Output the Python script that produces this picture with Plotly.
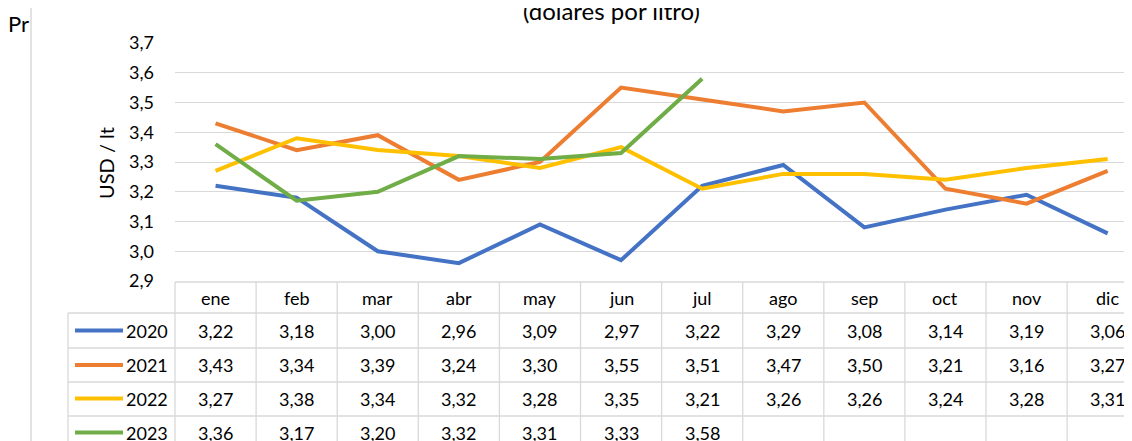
import plotly.graph_objects as go

months = ["ene", "feb", "mar", "abr", "may", "jun", "jul", "ago", "sep", "oct", "nov", "dic"]
years = ["2020", "2021", "2022", "2023"]
v2020 = [3.22, 3.18, 3.00, 2.96, 3.09, 2.97, 3.22, 3.29, 3.08, 3.14, 3.19, 3.06]
v2021 = [3.43, 3.34, 3.39, 3.24, 3.30, 3.55, 3.51, 3.47, 3.50, 3.21, 3.16, 3.27]
v2022 = [3.27, 3.38, 3.34, 3.32, 3.28, 3.35, 3.21, 3.26, 3.26, 3.24, 3.28, 3.31]
v2023 = [3.36, 3.17, 3.20, 3.32, 3.31, 3.33, 3.58]
series = [v2020, v2021, v2022, v2023]
colors = ["#4472C4", "#ED7D31", "#FFC000", "#70AD47"]

# page body has an 8px margin: work in screen pixels, convert to figure pixels
OFF = 8
SW, SH = 1132, 441
W, H = SW - OFF, SH - OFF
plot_left_s, plot_top_s, plot_bottom_s = 175, 43, 281
L = plot_left_s - OFF
T = plot_top_s - OFF
B = H - (plot_bottom_s - OFF)
R = 0
FONT = "Lato"
GRID = "#D9D9D9"
xr = [-0.5, 11.30]
plot_w = W - L - R
plot_h = H - T - B


def pxx(s):
    return (s - plot_left_s) / plot_w


def pxy(s):
    return (plot_bottom_s - s) / plot_h


def dx(v):
    return (v - xr[0]) / (xr[1] - xr[0])


fig = go.Figure()
for name, vals, c in zip(years, series, colors):
    fig.add_trace(go.Scatter(
        x=list(range(len(vals))), y=vals, mode="lines", name=name,
        line=dict(color=c, width=4), showlegend=False, hoverinfo="skip"))

shapes = []
annotations = []

# table geometry (screen pixels)
header_top = 282
row_lines = [313, 348, 382, 416, 450]
row_centers = [330.5, 365, 398.5, 432.5]
label_left = 68
TS = 18

shapes.append(dict(type="line", xref="paper", yref="paper", x0=0, x1=1.02,
                   y0=pxy(header_top), y1=pxy(header_top), line=dict(color=GRID, width=1.3)))
for yl in row_lines:
    shapes.append(dict(type="line", xref="paper", yref="paper", x0=pxx(label_left), x1=1.02,
                       y0=pxy(yl), y1=pxy(yl), line=dict(color=GRID, width=1.3)))
shapes.append(dict(type="line", xref="paper", yref="paper", x0=pxx(label_left), x1=pxx(label_left),
                   y0=pxy(row_lines[0]), y1=pxy(SH + 20), line=dict(color=GRID, width=1.3)))
for k in range(len(months) + 1):
    xv = dx(-0.5 + k)
    shapes.append(dict(type="line", xref="paper", yref="paper", x0=xv, x1=xv,
                       y0=pxy(header_top), y1=pxy(SH + 20), line=dict(color=GRID, width=1.3)))

for i, m in enumerate(months):
    annotations.append(dict(x=dx(i), y=pxy(298), xref="paper", yref="paper", text=m,
                            showarrow=False, xanchor="center", yanchor="middle",
                            font=dict(family=FONT, size=TS, color="#000000")))

for r, (name, vals, c) in enumerate(zip(years, series, colors)):
    yc = pxy(row_centers[r])
    shapes.append(dict(type="line", xref="paper", yref="paper", x0=pxx(75), x1=pxx(123),
                       y0=yc, y1=yc, line=dict(color=c, width=4)))
    annotations.append(dict(x=pxx(170), y=yc, xref="paper", yref="paper", text=name,
                            showarrow=False, xanchor="right", yanchor="middle",
                            font=dict(family=FONT, size=TS, color="#000000")))
    for i, v in enumerate(vals):
        annotations.append(dict(x=dx(i), y=yc, xref="paper", yref="paper",
                                text=f"{v:.2f}".replace(".", ","),
                                showarrow=False, xanchor="center", yanchor="middle",
                                font=dict(family=FONT, size=TS, color="#000000")))

# chart border at left
shapes.append(dict(type="line", xref="paper", yref="paper", x0=pxx(31), x1=pxx(31),
                   y0=pxy(-5), y1=pxy(SH + 5), line=dict(color=GRID, width=1.5)))

annotations.append(dict(x=pxx(611), y=pxy(10), xref="paper", yref="paper",
                        text="(dólares por litro)", showarrow=False,
                        xanchor="center", yanchor="middle",
                        font=dict(family=FONT, size=24, color="#000000")))
annotations.append(dict(x=pxx(31), y=pxy(23), xref="paper", yref="paper",
                        text="Pr", showarrow=False, xanchor="right", yanchor="middle",
                        font=dict(family=FONT, size=22, color="#000000")))
annotations.append(dict(x=pxx(106), y=pxy(163), xref="paper", yref="paper",
                        text="USD / lt", showarrow=False, textangle=-90,
                        xanchor="center", yanchor="middle",
                        font=dict(family=FONT, size=20, color="#000000")))

fig.update_layout(
    width=W, height=H, autosize=False,
    margin=dict(l=L, r=R, t=T, b=B, pad=0),
    paper_bgcolor="white", plot_bgcolor="white",
    separators=",.",
    shapes=shapes, annotations=annotations,
    font=dict(family=FONT, size=TS, color="#000000"),
    xaxis=dict(range=xr, showgrid=False, zeroline=False, showline=False,
               showticklabels=False, ticks="", fixedrange=True),
    yaxis=dict(range=[2.9, 3.7], dtick=0.1, tick0=2.9, tickformat=".1f",
               showgrid=True, gridcolor=GRID, gridwidth=1.3, zeroline=False,
               showline=False, ticks="", ticklabelstandoff=20,
               tickfont=dict(family=FONT, size=TS, color="#000000")),
)

fig.write_html("out.html")
